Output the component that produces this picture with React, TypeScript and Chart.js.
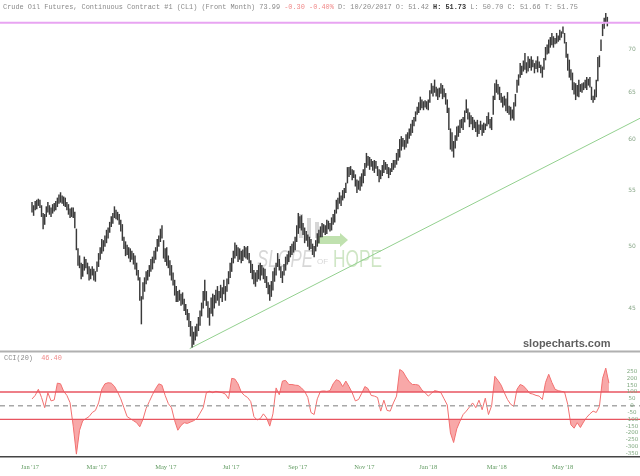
import React, { useEffect, useRef } from 'react';
import { Chart, registerables } from 'chart.js';
Chart.register(...registerables);

// ---------- data ----------
const lows = [
  53.0,52.7,53.2,53.3,53.6,53.4,52.6,51.5,51.9,52.6,
  53.0,52.8,52.6,52.9,53.1,53.2,53.5,53.8,53.9,53.8,
  53.6,53.5,53.2,52.8,52.5,52.6,52.5,51.6,49.7,48.4,
  48.2,47.3,47.5,48.0,48.2,47.7,47.2,47.3,47.6,47.2,
  47.1,47.9,48.3,48.9,49.4,49.6,50.0,50.3,50.7,51.2,
  51.7,52.0,52.5,52.4,52.3,51.9,51.3,50.5,49.8,49.2,
  49.3,49.0,48.7,48.9,48.5,48.1,47.6,47.2,45.6,43.8,
  45.7,46.3,46.9,47.2,47.5,47.9,48.1,48.6,48.9,49.6,
  50.0,50.4,50.7,49.0,48.7,48.4,48.2,47.6,47.2,46.8,
  46.0,45.5,45.5,45.6,45.2,45.3,44.8,44.5,44.1,43.6,
  42.9,42.1,42.3,42.6,42.9,43.3,43.7,44.4,45.0,45.6,
  45.2,44.3,43.7,44.6,44.4,45.0,45.4,45.6,45.2,45.8,
  45.5,46.1,45.6,46.3,46.9,47.4,47.9,48.6,49.0,49.2,
  48.7,48.9,48.6,48.8,49.1,49.0,48.9,48.6,47.8,47.3,
  46.9,46.7,47.1,47.3,47.2,47.6,47.3,47.0,46.6,46.1,
  45.6,45.9,46.4,47.1,47.6,48.3,48.0,47.4,47.0,47.6,
  48.0,48.5,48.7,49.1,49.3,49.5,49.7,50.4,51.1,51.6,
  51.4,51.0,50.3,50.5,50.0,49.7,49.8,49.3,49.1,49.6,
  50.0,50.3,50.8,50.8,51.2,51.0,51.1,51.5,51.3,51.4,
  51.9,52.1,52.9,53.3,53.8,53.6,54.1,54.3,54.8,55.7,
  56.3,56.5,56.0,56.2,55.4,54.8,55.1,55.0,55.4,55.7,
  56.4,57.2,57.4,57.0,57.3,56.9,56.7,57.1,56.4,55.8,
  56.1,56.4,56.7,57.0,56.6,56.2,56.5,56.8,57.0,57.2,
  57.5,57.9,58.2,58.9,59.3,59.0,59.2,59.6,60.1,60.4,
  60.7,61.4,61.9,62.6,62.8,63.1,63.3,63.1,63.4,63.2,
  63.1,63.9,64.9,64.6,65.0,64.6,64.2,64.5,64.9,64.3,
  64.5,63.7,62.8,61.0,59.0,58.8,58.2,59.1,59.9,60.3,
  60.7,61.2,61.0,61.8,62.8,62.1,61.3,61.6,61.0,61.2,
  60.8,60.3,60.6,61.0,60.4,60.7,61.0,61.4,61.6,61.2,
  61.0,62.6,64.2,65.0,64.8,64.2,63.9,63.4,63.6,63.0,
  62.8,62.6,62.0,62.2,62.0,63.5,65.0,65.8,66.7,67.0,
  67.4,67.6,67.2,67.4,67.8,67.5,67.9,67.2,67.7,67.3,
  67.8,67.2,66.7,67.6,68.7,69.4,69.5,70.2,70.5,70.2,
  70.6,70.7,70.9,71.1,71.4,71.9,70.7,69.0,67.5,66.7,
  66.4,65.3,64.8,64.2,64.6,64.5,65.1,65.0,65.3,65.5,
  65.3,65.8,65.6,64.2,63.9,64.2,64.5,66.3,67.9,69.8,
  71.6,72.5,73.3,72.8
];
const highs = [
  53.9,53.6,54.0,54.1,54.2,54.1,53.6,52.9,52.8,53.5,
  53.9,53.6,53.4,53.7,53.8,54.0,54.3,54.6,54.8,54.5,
  54.4,54.3,53.9,53.7,53.3,53.4,53.4,53.0,51.5,49.8,
  49.2,48.6,48.5,49.1,48.9,48.6,48.3,48.1,48.3,48.1,
  47.9,48.7,49.4,49.9,50.6,50.5,50.9,51.4,51.6,52.1,
  52.6,52.9,53.5,53.2,53.0,52.8,52.3,51.9,50.8,50.4,
  50.1,49.9,49.8,49.6,49.4,49.2,48.6,48.0,47.4,45.9,
  47.0,47.4,47.9,48.0,48.4,48.9,49.1,49.6,49.9,50.6,
  50.9,51.5,51.8,50.5,49.8,49.9,49.2,48.8,48.4,47.8,
  47.2,46.7,46.3,46.4,46.1,46.2,45.7,45.3,44.9,44.6,
  44.0,43.6,43.2,43.6,43.8,44.3,44.8,45.4,46.3,47.2,
  46.3,45.5,45.0,45.8,46.1,46.0,46.4,46.7,46.3,46.8,
  46.6,47.2,46.7,47.3,47.9,48.6,49.0,49.6,50.3,50.1,
  49.9,49.8,49.6,49.7,50.0,49.9,50.0,49.4,48.8,48.5,
  48.0,47.8,48.0,48.4,48.6,48.4,48.2,48.1,47.5,47.0,
  46.8,47.1,47.9,48.2,48.6,49.4,48.9,48.3,47.9,48.5,
  49.1,49.3,49.6,50.0,50.2,50.4,50.8,51.8,52.9,52.6,
  52.7,52.0,51.6,51.3,51.0,50.8,50.6,50.2,50.0,50.5,
  51.1,51.4,51.7,52.0,51.9,51.8,52.3,52.2,52.0,52.5,
  52.8,53.2,54.1,54.3,54.8,54.5,55.0,55.2,55.7,57.2,
  57.2,57.3,57.0,56.9,56.5,56.0,55.9,56.3,56.6,57.0,
  57.6,58.6,58.3,58.2,58.0,57.8,57.9,57.8,57.3,57.0,
  56.9,57.4,57.9,57.7,57.5,57.2,57.1,57.6,57.9,57.9,
  58.6,59.0,60.0,60.3,60.1,59.9,60.5,60.7,61.1,61.6,
  62.0,62.3,62.9,63.4,63.9,64.5,64.2,64.0,64.1,64.0,
  64.2,65.2,66.0,65.7,66.4,65.6,65.4,65.5,66.0,65.8,
  65.4,64.9,64.2,63.3,61.1,60.7,59.8,60.4,61.3,61.4,
  62.0,62.1,62.3,63.0,64.2,63.2,62.8,62.5,62.3,62.0,
  61.8,62.0,61.5,61.9,61.5,61.7,61.6,62.4,62.8,62.1,
  62.3,64.6,66.0,66.4,65.9,65.6,64.9,64.5,64.6,64.3,
  65.0,63.5,63.4,63.1,63.9,64.8,66.4,67.0,68.3,68.0,
  68.6,69.5,68.4,69.1,68.8,69.1,68.7,68.3,68.6,69.1,
  68.5,68.1,67.9,68.9,70.2,70.5,71.1,71.4,71.9,71.5,
  71.3,71.9,71.6,72.3,72.1,72.7,71.9,70.8,69.4,68.7,
  67.6,67.2,66.1,66.0,65.8,66.4,65.9,66.0,66.1,66.4,
  66.7,66.5,66.7,65.6,64.6,65.3,66.4,69.0,69.2,71.1,
  73.0,73.8,74.4,73.9
];
// CCI(20), one value every 2 bars
const cciStep = 2;
const cciValues = [
  49,75,120,60,-15,95,35,42,165,160,
  105,75,22,-150,-355,-180,-110,-95,-80,-50,
  -35,20,120,160,168,165,142,100,50,-15,
  -80,-95,-110,-125,-155,-100,-20,30,80,125,
  160,150,75,15,-15,-110,-180,-145,-125,-130,
  -120,-110,-95,-55,-15,95,105,95,105,100,
  95,85,50,200,195,160,100,75,60,30,
  -80,-105,-95,-60,-90,-150,-60,130,80,180,
  185,155,155,150,148,130,105,60,-50,-65,
  50,105,108,105,110,160,190,180,140,180,
  140,95,35,45,90,140,125,75,70,60,
  -40,40,-35,-40,20,70,265,250,210,175,
  155,155,150,115,95,70,90,110,105,95,
  50,5,-200,-270,-170,-115,-65,-40,-10,20,
  -15,40,-30,55,-65,0,215,185,150,95,
  45,10,-5,120,155,145,120,90,85,75,
  70,45,170,230,170,120,110,105,100,10,
  -140,-165,-125,-160,-120,-85,-60,-40,-50,-5,
  200,275,165
];
const priceTicks = [45, 50, 55, 60, 65, 70];
const cciTicks = [250, 200, 150, 100, 50, 0, -50, -100, -150, -200, -250, -300, -350];
const cciLevels = [100, -100];
const monthLabels = ["Jan '17", "Mar '17", "May '17", "Jul '17", "Sep '17", "Nov '17", "Jan '18", "Mar '18", "May '18"];
const monthIdx = [-1.3, 40.8, 84.4, 125.6, 167.6, 209.7, 250.0, 293.2, 334.8];
const trendIdx = [99.5, 383.6];
const trendPrice = [42.0, 62.2];
const alertLevel = 73.2;

const X_MIN = -20.2;
const X_MAX = 383.6;

const MONO = "'Liberation Mono', 'DejaVu Sans Mono', monospace";

function drawParts(ctx: CanvasRenderingContext2D, parts: { t: string; c: string; b?: boolean }[], x: number, y: number, size: number) {
  let cx = x;
  for (const p of parts) {
    ctx.font = `${p.b ? 'bold ' : ''}${size}px ${MONO}`;
    ctx.fillStyle = p.c;
    ctx.fillText(p.t, cx, y);
    cx += ctx.measureText(p.t).width;
  }
}

function condensedText(ctx: CanvasRenderingContext2D, text: string, x: number, y: number, font: string, color: string, sx: number) {
  ctx.save();
  ctx.translate(x, y);
  ctx.scale(sx, 1);
  ctx.font = font;
  ctx.fillStyle = color;
  ctx.fillText(text, 0, 0);
  ctx.restore();
}

const topPlugin = {
  id: 'topDecor',
  beforeDatasetsDraw(chart: any) {
    const ctx = chart.ctx;
    ctx.save();
    // watermark logo
    ctx.fillStyle = 'rgba(165,165,165,0.45)';
    ctx.fillRect(299, 214, 4, 24);
    ctx.fillRect(307, 218, 4, 20);
    ctx.fillRect(315, 222, 4, 16);
    ctx.fillStyle = 'rgba(140,200,110,0.55)';
    ctx.beginPath();
    ctx.moveTo(318, 236); ctx.lineTo(340, 236); ctx.lineTo(340, 233); ctx.lineTo(348, 240);
    ctx.lineTo(340, 247); ctx.lineTo(340, 244); ctx.lineTo(318, 244); ctx.closePath(); ctx.fill();
    ctx.textBaseline = 'alphabetic';
    condensedText(ctx, 'SLOPE', 257, 267, "italic 24px 'Liberation Sans', Arial, sans-serif", 'rgba(175,175,175,0.5)', 0.7);
    condensedText(ctx, 'OF', 317, 264, "8px 'Liberation Sans', Arial, sans-serif", 'rgba(175,175,175,0.5)', 1);
    condensedText(ctx, 'HOPE', 333, 267, "24px 'Liberation Sans', Arial, sans-serif", 'rgba(160,205,140,0.5)', 0.72);
    ctx.restore();
  },
  afterDraw(chart: any) {
    const ctx = chart.ctx;
    const y = chart.scales.y;
    ctx.save();
    ctx.textBaseline = 'middle';
    drawParts(ctx, [
      { t: 'Crude Oil Futures, Continuous Contract #1 (CL1) (Front Month) 73.99 ', c: '#8a8a8a' },
      { t: '-0.30 -0.40% ', c: '#f08a8a' },
      { t: 'D: 10/20/2017 O: 51.42 ', c: '#8a8a8a' },
      { t: 'H: 51.73 ', c: '#333333', b: true },
      { t: 'L: 50.70 C: 51.66 T: 51.75', c: '#8a8a8a' },
    ], 3, 7, 6.9);
    // price tick labels
    ctx.font = "6px 'DejaVu Sans', sans-serif";
    ctx.fillStyle = '#8aa88a';
    ctx.textAlign = 'center';
    for (const v of priceTicks) {
      ctx.fillText(String(v), 632, y.getPixelForValue(v));
    }
    // site label
    ctx.font = "bold 11px 'Liberation Sans', Arial, sans-serif";
    ctx.fillStyle = '#5f5f5f';
    ctx.textAlign = 'left';
    ctx.fillText('slopecharts.com', 523, 344);
    ctx.restore();
  },
};

const cciPlugin = {
  id: 'cciDecor',
  afterDraw(chart: any) {
    const ctx = chart.ctx;
    const y = chart.scales.y;
    ctx.save();
    ctx.fillStyle = '#b0b0b0';
    ctx.fillRect(0, 0.5, 640, 2);
    ctx.textBaseline = 'middle';
    drawParts(ctx, [
      { t: 'CCI(20) ', c: '#8a8a8a' },
      { t: ' 46.40', c: '#f08a8a' },
    ], 4, 8, 6.9);
    ctx.font = "5.5px 'DejaVu Sans', sans-serif";
    ctx.fillStyle = '#7fa87f';
    ctx.textAlign = 'center';
    for (const v of cciTicks) {
      ctx.fillText(String(v), 632, y.getPixelForValue(v));
    }
    ctx.restore();
  },
};

export default function App() {
  const topRef = useRef<HTMLCanvasElement>(null);
  const botRef = useRef<HTMLCanvasElement>(null);

  useEffect(() => {
    const bars = highs.map((h, i) => ({ x: i, y: [lows[i], h] }));
    const trend = trendIdx.map((x, i) => ({ x, y: trendPrice[i] }));
    const alert = [{ x: X_MIN, y: alertLevel }, { x: X_MAX, y: alertLevel }];

    const top = new Chart(topRef.current!, {
      type: 'bar',
      data: {
        datasets: [
          { type: 'line', data: trend, borderColor: '#93d08f', borderWidth: 1, pointRadius: 0, order: 3 } as any,
          { type: 'bar', data: bars as any, backgroundColor: '#3a3a3a', barThickness: 0.8, order: 2 } as any,
          { type: 'line', data: alert, borderColor: '#e8a4f2', borderWidth: 2, pointRadius: 0, order: 1 } as any,
        ],
      },
      options: {
        animation: false,
        responsive: false,
        events: [],
        layout: { padding: 0 },
        plugins: { legend: { display: false }, tooltip: { enabled: false } },
        scales: {
          x: { type: 'linear', min: X_MIN, max: X_MAX, offset: false, display: false },
          y: { type: 'logarithmic', min: 41.9, max: 76.1, display: false },
        },
      },
      plugins: [topPlugin],
    });

    const cciPts = cciValues.map((v, k) => ({ x: k * cciStep, y: v }));
    const levelLine = (lv: number) => [{ x: X_MIN, y: lv }, { x: X_MAX, y: lv }];

    const bot = new Chart(botRef.current!, {
      type: 'line',
      data: {
        datasets: [
          { data: levelLine(cciLevels[0]), borderColor: '#e85560', borderWidth: 1.3, pointRadius: 0, order: 1 },
          { data: levelLine(cciLevels[1]), borderColor: '#e85560', borderWidth: 1.3, pointRadius: 0, order: 1 },
          { data: levelLine(0), borderColor: '#a8a8a8', borderWidth: 1.5, borderDash: [5, 4], pointRadius: 0, order: 1 },
          {
            data: cciPts, borderColor: '#f27070', borderWidth: 1, pointRadius: 0, order: 3,
            fill: { target: { value: 100 }, above: '#f8a8a8', below: 'rgba(0,0,0,0)' },
          } as any,
          {
            data: cciPts, borderColor: 'rgba(0,0,0,0)', borderWidth: 0, pointRadius: 0, order: 4,
            fill: { target: { value: -100 }, above: 'rgba(0,0,0,0)', below: '#f8a8a8' },
          } as any,
        ],
      },
      options: {
        animation: false,
        responsive: false,
        events: [],
        layout: { padding: { top: 2, left: 0, right: 0, bottom: 0 } },
        plugins: { legend: { display: false }, tooltip: { enabled: false } },
        scales: {
          x: {
            type: 'linear', min: X_MIN, max: X_MAX, offset: false,
            grid: { display: false, drawTicks: false },
            border: { display: true, color: '#444444', width: 1.5 },
            ticks: {
              autoSkip: false, maxRotation: 0, padding: 6,
              font: { size: 6.5, family: "'Liberation Serif', serif" }, color: '#5f9a5f',
              callback: (v: any) => {
                const i = monthIdx.indexOf(Number(v));
                return i >= 0 ? monthLabels[i] : '';
              },
            },
            afterBuildTicks: (s: any) => { s.ticks = monthIdx.map((v) => ({ value: v })); },
            afterFit: (s: any) => { s.height = 19; },
          } as any,
          y: { min: -376, max: 393, display: false },
        },
      },
      plugins: [cciPlugin],
    });

    return () => { top.destroy(); bot.destroy(); };
  }, []);

  return (
    <div style={{ position: 'fixed', left: 0, top: 0, width: 640, height: 476, background: '#fff' }}>
      <canvas ref={topRef} width={640} height={350} style={{ position: 'absolute', left: 0, top: 0 }} />
      <canvas ref={botRef} width={640} height={126} style={{ position: 'absolute', left: 0, top: 350 }} />
    </div>
  );
}
